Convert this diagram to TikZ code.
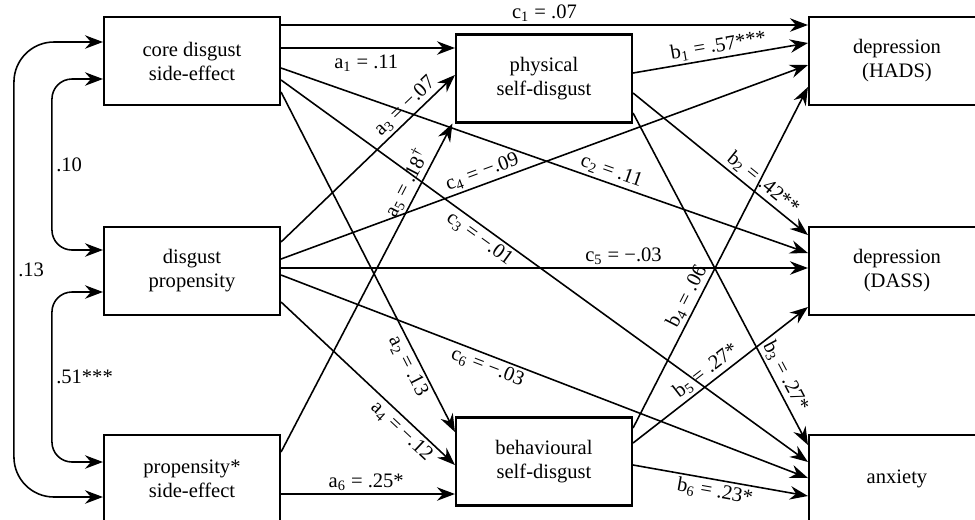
\documentclass[tikz,border=0pt]{standalone}
\usepackage{fontspec}
\setmainfont{Liberation Serif}
\newfontfamily\diagfont{Liberation Serif}
\usetikzlibrary{arrows.meta, positioning}

\tikzset{
	var/.style={draw, line width=1.2pt, minimum width=3.52cm, minimum height=1.76cm, align=center, inner sep=0pt},
	eff/.style={line width=0.9pt, -{Stealth[length=3.6mm,width=2.7mm,inset=1.2mm]}},
	corr/.style={line width=0.9pt, {Stealth[length=3.6mm,width=2.7mm,inset=1.2mm]}-{Stealth[length=3.6mm,width=2.7mm,inset=1.2mm]}},
	lab/.style={sloped, inner sep=1.5pt}
}

\begin{document}
\begin{tikzpicture}[on grid, font=\diagfont\fontsize{11.7}{13.7}\selectfont]
		\useasboundingbox (0,0) rectangle (19.5,-10.38);
		\node[var] (core) at (3.84,-1.22) {core disgust\\side-effect};
		\node[var] (prop) [below=4.2cm of core] {disgust\\propensity};
		\node[var] (inter) [below=4.16cm of prop] {propensity*\\side-effect};
		\node[var] (phys) [right=7.04cm of core, yshift=-0.35cm] {physical\\self-disgust};
		\node[var] (behav) [right=7.04cm of inter, yshift=0.35cm] {behavioural\\self-disgust};
		\node[var] (hads) [right=14.1cm of core] {depression\\(HADS)};
		\node[var] (dass) [right=14.1cm of prop] {depression\\(DASS)};
		\node[var] (anx) [right=14.1cm of inter] {anxiety};
		\path[eff]
			([yshift=0.72cm]core.east) edge node [above, inner sep=1.5pt] {c\textsubscript{1} = .07} ([yshift=0.72cm]hads.west)
			([yshift=0.26cm]core.east) edge node [below, pos=0.49] {a\textsubscript{1} = .11} ([yshift=0.61cm]phys.west)
			([yshift=-0.14cm]core.east) edge node [lab, above, pos=0.62] {c\textsubscript{2} = .11} ([yshift=0.36cm]dass.west)
			([yshift=-0.38cm]core.east) edge node [lab, below, pos=0.39] {c\textsubscript{3} = −.01} ([yshift=0.34cm]anx.west)
			([yshift=-0.62cm]core.east) edge node [lab, below, pos=0.79] {a\textsubscript{2} = .13} ([yshift=0.59cm]behav.west)
			([yshift=0.58cm]prop.east) edge node [lab, above, pos=0.76] {a\textsubscript{3} = −.07} ([yshift=0.07cm]phys.west)
			([yshift=0.24cm]prop.east) edge node [lab, above, pos=0.39] {c\textsubscript{4} = −.09} ([yshift=-0.08cm]hads.west)
			([yshift=0.06cm]prop.east) edge node [above, pos=0.65, inner sep=1.5pt] {c\textsubscript{5} = −.03} ([yshift=0.06cm]dass.west)
			([yshift=-0.08cm]prop.east) edge node [lab, below, pos=0.4] {c\textsubscript{6} = −.03} ([yshift=0.02cm]anx.west)
			([yshift=-0.62cm]prop.east) edge node [lab, below, pos=0.74] {a\textsubscript{4} = −.12} ([yshift=-0.07cm]behav.west)
			([yshift=0.54cm]inter.east) edge node [lab, above, pos=0.8] {a\textsubscript{5} = .18\textsuperscript{†}} ([xshift=-0.05cm]phys.south west)
			([yshift=-0.3cm]inter.east) edge node [above, pos=0.49, inner sep=1.5pt] {a\textsubscript{6} = .25*} ([yshift=-0.65cm]behav.west)
			([yshift=0.11cm]phys.east) edge node [lab, above, pos=0.5] {b\textsubscript{1} = .57***} ([yshift=0.36cm]hads.west)
			([yshift=-0.29cm]phys.east) edge node [lab, above, pos=0.7] {b\textsubscript{2} = .42**} ([yshift=0.72cm]dass.west)
			([yshift=-0.69cm]phys.east) edge node [lab, above, pos=0.81] {b\textsubscript{3} = .27*} ([yshift=0.68cm]anx.west)
			([yshift=0.67cm]behav.east) edge node [lab, above, pos=0.37] {b\textsubscript{4} = .06} ([yshift=-0.52cm]hads.west)
			([yshift=0.37cm]behav.east) edge node [lab, above, pos=0.46] {b\textsubscript{5} = .27*} ([yshift=-0.72cm]dass.west)
			([yshift=-0.07cm]behav.east) edge node [lab, below, pos=0.48] {b\textsubscript{6} = .23*} ([yshift=-0.34cm]anx.west);
		\draw[corr, rounded corners=0.4cm] ([yshift=-0.36cm]core.west) -- ++(-1.02,0) |- node [pos=0.25, right, inner sep=2pt] {.10} ([yshift=0.42cm]prop.west);
		\draw[corr, rounded corners=0.4cm] ([yshift=-0.42cm]prop.west) -- ++(-1.02,0) |- node [pos=0.25, right, inner sep=2pt] {.51***} ([yshift=0.34cm]inter.west);
		\draw[corr, rounded corners=0.8cm] ([yshift=0.38cm]core.west) -- ++(-1.78,0) |- node [pos=0.25, right, inner sep=2pt] {.13} ([yshift=-0.36cm]inter.west);
	\end{tikzpicture}
\end{document}
